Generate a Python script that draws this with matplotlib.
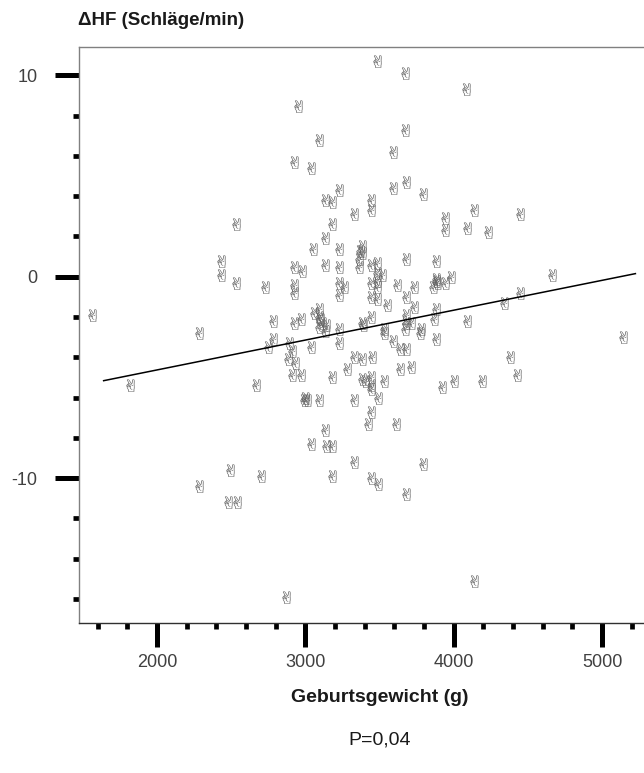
import numpy as np
import matplotlib.pyplot as plt
from matplotlib.ticker import MultipleLocator
from matplotlib.textpath import TextPath
from matplotlib.path import Path

plt.rcParams['font.family'] = ['Liberation Sans', 'DejaVu Sans']
plt.rcParams['axes.unicode_minus'] = False

# birth weight (g) and heart rate change (beats/min)
gewicht = [
    3480, 3670, 4080, 2950, 3670, 3090, 3590, 2920, 3040, 3680,
    3590, 3790, 3230, 3130, 3180, 3440, 3440, 3330, 4140, 4450,
    3940, 3940, 4090, 4230, 2530, 3180, 3130, 3050, 3230, 3380,
    3380, 3360, 3360, 2920, 2980, 3130, 3230, 2430, 2430, 3680,
    3880, 3440, 3480, 3480, 3520, 2530, 2730, 2920, 2920, 3230,
    3260, 3230, 3440, 3480, 3480, 3620, 3730, 3880, 3890, 3860,
    3940, 3980, 3440, 3480, 3680, 3550, 3730, 3880, 3090, 3090,
    3110, 3140, 3090, 3060, 2780, 2920, 2970, 1560, 2280, 3230,
    3380, 3440, 3680, 3680, 3710, 3670, 3530, 3780, 3870, 4090,
    4340, 4450, 4660, 5140,
    2780, 2750, 2890, 2910, 2880, 2930, 2910, 2970, 3040, 3130,
    3230, 3330, 3380, 3280, 3180, 1820, 2670, 2990, 3010, 3090,
    3330, 3130, 3040, 3140, 3180, 3330, 2490, 2700, 3180, 2280,
    2480, 2540, 2870, 3380, 3530, 3590, 3770, 3880, 3640, 3680,
    3450, 4380, 3640, 3710, 4430, 3400, 3440, 3440, 3440, 3530,
    3490, 3920, 4000, 4190, 3440, 3420, 3610, 3790, 3440, 3490,
    3680, 4140, 3390, 3000, 3370, 3880, 3100,
]
delta_hf = [
    10.7, 10.1, 9.3, 8.5, 7.3, 6.8, 6.2, 5.7, 5.4, 4.7,
    4.4, 4.1, 4.3, 3.8, 3.7, 3.8, 3.3, 3.1, 3.3, 3.1,
    2.9, 2.3, 2.4, 2.2, 2.6, 2.6, 1.9, 1.4, 1.4, 1.5,
    1.2, 0.9, 0.5, 0.5, 0.3, 0.6, 0.5, 0.8, 0.1, 0.9,
    0.8, 0.6, 0.7, 0.2, 0.1, -0.3, -0.5, -0.4, -0.8, -0.3,
    -0.5, -0.9, -0.3, -0.2, -0.5, -0.4, -0.5, -0.1, -0.3, -0.5,
    -0.3, 0.0, -1.0, -1.1, -1.0, -1.4, -1.5, -1.6, -1.6, -2.0,
    -2.3, -2.4, -2.5, -1.8, -2.2, -2.3, -2.1, -1.9, -2.8, -2.6,
    -2.3, -2.0, -1.9, -2.3, -2.3, -2.6, -2.6, -2.6, -2.1, -2.2,
    -1.3, -0.8, 0.1, -3.0,
    -3.1, -3.5, -3.3, -3.7, -4.1, -4.3, -4.9, -4.9, -3.5, -2.7,
    -3.3, -4.0, -4.1, -4.6, -5.0, -5.4, -5.4, -6.1, -6.1, -6.1,
    -6.1, -7.6, -8.3, -8.4, -8.4, -9.2, -9.6, -9.9, -9.9, -10.4,
    -11.2, -11.2, -15.9, -5.1, -2.8, -3.2, -2.8, -3.1, -3.6, -3.6,
    -4.0, -4.0, -4.6, -4.5, -4.9, -5.2, -5.0, -5.4, -5.6, -5.2,
    -6.0, -5.5, -5.2, -5.2, -6.7, -7.3, -7.3, -9.3, -10.0, -10.3,
    -10.8, -15.1, -2.4, -6.0, 1.3, -0.2, -2.1,
]

# linear regression line
fit_intercept = -7.596
fit_slope = 0.001483
fit_range = [1640, 5225]

# victory-hand glyph (mathtext fallback font) as marker, widened a little
tp = TextPath((0, 0), '$\u270C$', size=10)
verts = tp.vertices.copy()
codes = tp.codes.copy()
start = 0
for i, c in enumerate(codes):
    if c == Path.MOVETO:
        start = i
    elif c == Path.CLOSEPOLY:
        verts[i] = verts[start]
cx = (verts[:, 0].min() + verts[:, 0].max()) / 2
cy = (verts[:, 1].min() + verts[:, 1].max()) / 2
verts = (verts - [cx, cy]) * [1.4, 1.0]
hand = Path(verts, codes)

fig = plt.figure(figsize=(6.44, 7.73), dpi=100)
ax = fig.add_axes([0.1227, 0.194, 0.8773, 0.745])

ax.scatter(gewicht, delta_hf, marker=hand, s=80, c='#606060',
           linewidths=0, zorder=3)

fx = np.array(fit_range, dtype=float)
ax.plot(fx, fit_intercept + fit_slope * fx, color='black', lw=1.1, zorder=4)

ax.set_xlim(1474, 5283)
ax.set_ylim(-17.2, 11.4)

ax.xaxis.set_major_locator(MultipleLocator(1000))
ax.xaxis.set_minor_locator(MultipleLocator(200))
ax.yaxis.set_major_locator(MultipleLocator(10))
ax.yaxis.set_minor_locator(MultipleLocator(2))

ax.spines['right'].set_visible(False)
ax.spines['top'].set_color('#808080')
ax.spines['left'].set_color('#808080')
ax.spines['bottom'].set_color('#303030')
for s in ax.spines.values():
    s.set_linewidth(1.0)

ax.tick_params(axis='both', which='major', direction='out', length=17,
               width=3.6, color='black', labelsize=13, labelcolor='#404040')
ax.tick_params(axis='both', which='minor', direction='out', length=4.5,
               width=3.4, color='black')
ax.tick_params(axis='y', which='major', pad=13)
ax.tick_params(axis='x', which='major', pad=5)

fig.text(0.121, 0.974, '\u0394HF (Schläge/min)', fontsize=13.5,
         fontweight='bold', color='#1a1a1a', ha='left', va='center')
fig.text(0.59, 0.098, 'Geburtsgewicht (g)', fontsize=14,
         fontweight='bold', color='#1a1a1a', ha='center', va='center')
fig.text(0.59, 0.043, 'P=0,04', fontsize=14, color='#1a1a1a',
         ha='center', va='center')

fig.savefig('out.png', dpi=100)
